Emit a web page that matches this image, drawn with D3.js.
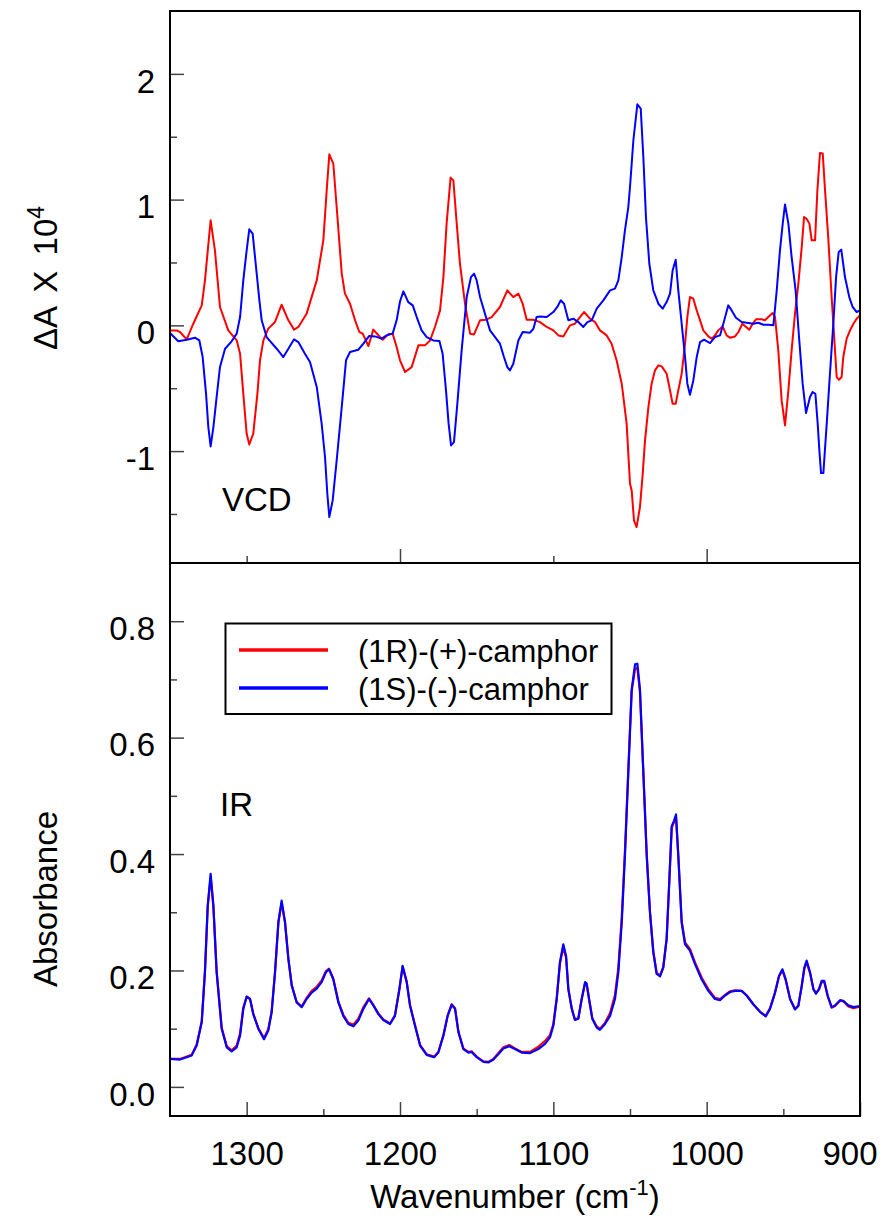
<!DOCTYPE html>
<html><head><meta charset="utf-8">
<script src="https://cdn.jsdelivr.net/npm/d3@7"></script>
<style>
body{margin:0;background:#fff;}
svg{display:block;font-family:"Liberation Sans",Arial,sans-serif;}
</style></head>
<body><svg id="chart" width="884" height="1222"></svg>
<script>
// ---- Data (wavenumber cm-1, value) ----
const vcdR = [[1350,-0.04],[1345.7,-0.04],[1343.5,-0.053],[1339.1,-0.111],[1334.8,0.013],[1329.3,0.159],[1327.2,0.358],[1323.5,0.835],[1320.7,0.597],[1317.4,0.146],[1312.0,-0.04],[1306.5,-0.119],[1304.3,-0.225],[1302.2,-0.543],[1300.0,-0.862],[1298.3,-0.947],[1295.7,-0.862],[1293.0,-0.543],[1291.3,-0.278],[1289.1,-0.119],[1285.9,-0.026],[1281.5,0.027],[1277.2,0.164],[1272.8,0.04],[1269.1,-0.034],[1266.3,-0.013],[1260.9,0.093],[1254.3,0.358],[1250.0,0.676],[1247.8,1.074],[1246.1,1.36],[1243.5,1.286],[1241.3,0.941],[1238.0,0.411],[1235.9,0.252],[1232.6,0.172],[1229.3,0.04],[1226.5,-0.053],[1224.3,-0.066],[1220.6,-0.164],[1217.4,-0.034],[1214.1,-0.079],[1211.3,-0.114],[1207.6,-0.071],[1204.8,-0.066],[1202.2,-0.172],[1200.0,-0.278],[1196.7,-0.371],[1192.4,-0.332],[1188.0,-0.159],[1183.7,-0.159],[1180.4,-0.12],[1177.2,-0.013],[1173.9,0.119],[1171.7,0.384],[1169.6,0.809],[1167.0,1.175],[1165.2,1.153],[1163.0,0.809],[1160.9,0.49],[1157.6,0.172],[1154.3,-0.066],[1151.7,-0.072],[1147.8,0.04],[1143.9,0.045],[1140.2,0.066],[1134.8,0.146],[1130.0,0.278],[1126.1,0.225],[1122.8,0.252],[1120.0,0.172],[1117.4,0.045],[1113.0,0.045],[1108.7,0.026],[1104.3,-0.013],[1100.0,-0.04],[1096.7,-0.08],[1093.5,-0.088],[1089.1,0.0],[1085.9,0.013],[1082.6,0.066],[1080.0,0.106],[1076.1,0.053],[1072.8,0.026],[1069.6,-0.04],[1065.2,-0.08],[1062.0,-0.146],[1058.7,-0.279],[1055.4,-0.464],[1052.2,-0.782],[1050.0,-1.26],[1048.9,-1.313],[1047.4,-1.552],[1045.7,-1.605],[1043.5,-1.445],[1041.7,-1.18],[1040.2,-0.915],[1038.0,-0.65],[1035.9,-0.464],[1033.7,-0.358],[1031.5,-0.318],[1029.3,-0.326],[1026.1,-0.385],[1023.9,-0.517],[1022.2,-0.623],[1020.2,-0.623],[1018.5,-0.517],[1016.3,-0.385],[1014.1,-0.146],[1012.6,0.066],[1010.9,0.225],[1008.7,0.212],[1006.5,0.119],[1004.3,0.04],[1002.2,-0.04],[998.9,-0.088],[996.7,-0.106],[994.6,-0.08],[992.4,-0.04],[989.6,-0.008],[987.0,-0.08],[984.8,-0.098],[981.5,-0.088],[979.3,-0.053],[976.7,0.013],[974.3,-0.013],[972.2,-0.035],[970.0,0.013],[967.8,0.048],[964.1,0.048],[962.0,0.04],[959.8,0.066],[957.0,0.098],[955.4,0.066],[953.3,-0.199],[951.1,-0.597],[948.9,-0.796],[946.7,-0.517],[944.6,-0.199],[942.4,0.093],[940.2,0.331],[938.0,0.623],[936.5,0.862],[934.8,0.848],[933.0,0.809],[931.5,0.676],[929.3,0.676],[927.8,1.074],[926.1,1.371],[924.3,1.366],[922.8,1.074],[920.6,0.676],[918.5,0.225],[916.3,-0.199],[915.2,-0.411],[913.7,-0.433],[912.0,-0.411],[910.9,-0.252],[908.7,-0.106],[906.5,-0.04],[904.3,0.013],[902.2,0.053],[900.0,0.079]];

const vcdS = [[1350,-0.061],[1344.6,-0.127],[1339.1,-0.114],[1333.7,-0.098],[1330.9,-0.119],[1328.7,-0.252],[1326.5,-0.543],[1325.0,-0.809],[1323.5,-0.963],[1321.7,-0.809],[1319.6,-0.57],[1317.4,-0.331],[1314.1,-0.186],[1309.8,-0.127],[1306.5,-0.066],[1304.3,0.066],[1302.2,0.358],[1300.0,0.597],[1298.3,0.764],[1296.1,0.729],[1293.9,0.464],[1291.7,0.199],[1290.2,0.04],[1287.0,-0.093],[1280.4,-0.186],[1276.1,-0.252],[1272.8,-0.186],[1269.1,-0.111],[1266.3,-0.133],[1262.0,-0.225],[1258.7,-0.292],[1254.3,-0.49],[1251.1,-0.782],[1248.9,-1.047],[1247.4,-1.339],[1246.1,-1.525],[1243.9,-1.392],[1241.3,-1.074],[1238.0,-0.65],[1235.2,-0.278],[1232.6,-0.212],[1227.2,-0.194],[1223.9,-0.146],[1220.2,-0.085],[1216.3,-0.088],[1212.0,-0.106],[1208.7,-0.08],[1204.8,-0.066],[1202.2,0.04],[1200.0,0.19],[1197.8,0.27],[1194.6,0.185],[1191.7,0.159],[1189.1,0.066],[1185.9,-0.04],[1182.6,-0.093],[1178.3,-0.12],[1174.3,-0.125],[1172.2,-0.226],[1170.0,-0.517],[1168.3,-0.782],[1166.7,-0.955],[1164.8,-0.928],[1162.6,-0.623],[1159.8,-0.199],[1156.5,0.225],[1153.7,0.384],[1151.7,0.411],[1150.0,0.358],[1147.8,0.225],[1144.6,0.093],[1141.3,-0.04],[1138.0,-0.093],[1134.8,-0.146],[1132.2,-0.252],[1130.0,-0.332],[1128.3,-0.358],[1126.1,-0.305],[1122.8,-0.12],[1120.0,-0.053],[1115.2,-0.058],[1113.0,-0.027],[1110.9,0.066],[1108.7,0.071],[1104.3,0.066],[1100.0,0.106],[1097.4,0.146],[1095.2,0.199],[1093.0,0.172],[1090.2,0.04],[1087.0,0.053],[1083.7,0.026],[1080.4,-0.013],[1077.8,0.026],[1075.0,0.04],[1071.7,0.133],[1067.4,0.199],[1063.0,0.278],[1059.8,0.292],[1057.6,0.358],[1055.4,0.543],[1053.3,0.756],[1051.1,0.941],[1050.0,1.1],[1047.8,1.472],[1045.2,1.758],[1043.0,1.724],[1041.3,1.339],[1039.6,0.862],[1037.4,0.49],[1034.8,0.278],[1031.5,0.172],[1028.7,0.133],[1026.1,0.185],[1023.9,0.252],[1022.2,0.437],[1020.2,0.522],[1018.5,0.278],[1016.3,0.013],[1014.1,-0.252],[1012.6,-0.464],[1010.9,-0.552],[1008.7,-0.438],[1006.5,-0.252],[1004.3,-0.133],[1001.7,-0.114],[997.8,-0.141],[994.6,-0.093],[991.3,-0.08],[988.5,0.04],[985.9,0.159],[983.7,0.119],[980.9,0.061],[977.2,0.026],[973.9,0.021],[969.6,0.013],[966.3,0.021],[963.0,0.005],[959.8,0.005],[956.5,0.0],[954.3,0.278],[952.2,0.597],[950.4,0.809],[948.9,0.962],[946.7,0.809],[944.6,0.544],[942.0,0.278],[939.6,-0.119],[937.4,-0.464],[935.2,-0.698],[932.6,-0.57],[930.9,-0.53],[929.1,-0.544],[927.6,-0.782],[926.5,-0.995],[925.4,-1.175],[923.9,-1.175],[921.7,-0.782],[919.6,-0.385],[917.4,0.013],[915.6,0.384],[913.9,0.583],[912.2,0.602],[909.8,0.384],[907.0,0.225],[904.8,0.146],[902.2,0.106],[900.0,0.119]];

const irS = [[1350,0.048],[1343.5,0.047],[1339.1,0.051],[1335.9,0.054],[1332.6,0.071],[1329.3,0.111],[1327.2,0.197],[1325.4,0.311],[1323.5,0.366],[1321.7,0.311],[1319.6,0.197],[1316.3,0.1],[1313.0,0.068],[1309.8,0.061],[1306.5,0.068],[1304.3,0.088],[1302.2,0.134],[1300.0,0.155],[1297.8,0.151],[1295.7,0.125],[1292.4,0.1],[1288.7,0.082],[1285.9,0.097],[1283.7,0.128],[1281.5,0.197],[1279.3,0.283],[1277.2,0.32],[1275.0,0.283],[1272.8,0.22],[1270.6,0.174],[1267.4,0.145],[1264.1,0.137],[1260.9,0.151],[1257.6,0.162],[1254.3,0.169],[1251.1,0.18],[1248.3,0.197],[1246.3,0.202],[1243.5,0.185],[1240.2,0.145],[1237.0,0.122],[1233.7,0.108],[1230.4,0.104],[1227.2,0.114],[1223.9,0.134],[1220.2,0.151],[1217.4,0.14],[1214.1,0.125],[1210.9,0.115],[1206.5,0.108],[1203.3,0.122],[1200.4,0.168],[1198.3,0.208],[1195.6,0.18],[1193.5,0.14],[1190.2,0.105],[1186.9,0.071],[1182.6,0.055],[1177.8,0.051],[1175.0,0.059],[1171.7,0.088],[1168.9,0.122],[1166.3,0.141],[1164.1,0.134],[1161.9,0.094],[1158.7,0.065],[1155.4,0.059],[1153.3,0.06],[1150.0,0.051],[1145.6,0.043],[1142.4,0.042],[1139.1,0.047],[1135.9,0.056],[1132.6,0.066],[1128.7,0.07],[1125.0,0.065],[1120.7,0.059],[1115.2,0.058],[1109.8,0.065],[1105.4,0.074],[1102.2,0.085],[1100.0,0.105],[1097.8,0.151],[1095.7,0.214],[1093.5,0.245],[1091.7,0.225],[1090.2,0.168],[1088.0,0.134],[1085.9,0.115],[1083.7,0.117],[1081.5,0.151],[1079.3,0.18],[1078.3,0.178],[1076.7,0.151],[1074.6,0.117],[1071.7,0.102],[1069.6,0.098],[1066.3,0.108],[1063.0,0.122],[1059.8,0.151],[1057.6,0.197],[1055.4,0.282],[1053.3,0.397],[1051.1,0.54],[1048.9,0.683],[1046.7,0.726],[1045.2,0.727],[1043.5,0.683],[1041.3,0.54],[1039.1,0.397],[1037.0,0.3],[1034.8,0.231],[1032.6,0.194],[1030.4,0.19],[1028.3,0.205],[1026.1,0.254],[1024.6,0.34],[1022.8,0.448],[1021.3,0.457],[1020.0,0.468],[1018.5,0.397],[1016.3,0.282],[1014.1,0.245],[1010.9,0.234],[1007.6,0.211],[1003.3,0.185],[998.9,0.165],[994.6,0.151],[991.3,0.149],[988.0,0.157],[984.8,0.163],[981.5,0.165],[977.2,0.165],[973.9,0.157],[969.6,0.142],[965.2,0.129],[961.5,0.121],[958.7,0.134],[955.4,0.162],[952.8,0.191],[950.6,0.202],[948.5,0.185],[945.6,0.151],[942.4,0.133],[940.2,0.139],[938.0,0.174],[936.3,0.205],[934.8,0.217],[932.6,0.197],[930.4,0.168],[928.7,0.16],[926.7,0.168],[925.0,0.182],[923.3,0.182],[921.1,0.157],[918.5,0.137],[916.3,0.14],[913.0,0.149],[910.9,0.148],[907.6,0.14],[904.3,0.137],[900.0,0.139]];

const irR = [[1350,0.048],[1343.5,0.048],[1339.1,0.052],[1335.9,0.055],[1332.6,0.073],[1329.3,0.113],[1327.2,0.2],[1325.4,0.31],[1323.5,0.36],[1321.7,0.31],[1319.6,0.2],[1316.3,0.102],[1313.0,0.07],[1309.8,0.063],[1306.5,0.071],[1304.3,0.092],[1302.2,0.136],[1300.0,0.155],[1297.8,0.151],[1295.7,0.126],[1292.4,0.101],[1288.7,0.084],[1285.9,0.099],[1283.7,0.13],[1281.5,0.198],[1279.3,0.283],[1277.2,0.316],[1275.0,0.283],[1272.8,0.22],[1270.6,0.175],[1267.4,0.146],[1264.1,0.138],[1260.9,0.153],[1257.6,0.165],[1254.3,0.172],[1251.1,0.183],[1248.3,0.199],[1246.3,0.203],[1243.5,0.186],[1240.2,0.147],[1237.0,0.124],[1233.7,0.11],[1230.4,0.107],[1227.2,0.117],[1223.9,0.137],[1220.2,0.152],[1217.4,0.141],[1214.1,0.126],[1210.9,0.116],[1206.5,0.109],[1203.3,0.123],[1200.4,0.168],[1198.3,0.206],[1195.6,0.18],[1193.5,0.141],[1190.2,0.106],[1186.9,0.072],[1182.6,0.056],[1177.8,0.052],[1175.0,0.06],[1171.7,0.089],[1168.9,0.123],[1166.3,0.142],[1164.1,0.135],[1161.9,0.095],[1158.7,0.066],[1155.4,0.06],[1153.3,0.061],[1150.0,0.052],[1145.6,0.044],[1142.4,0.043],[1139.1,0.048],[1135.9,0.058],[1132.6,0.068],[1128.7,0.072],[1125.0,0.066],[1120.7,0.06],[1115.2,0.06],[1109.8,0.069],[1105.4,0.079],[1102.2,0.089],[1100.0,0.108],[1097.8,0.152],[1095.7,0.212],[1093.5,0.24],[1091.7,0.222],[1090.2,0.168],[1088.0,0.135],[1085.9,0.116],[1083.7,0.118],[1081.5,0.151],[1079.3,0.178],[1078.3,0.176],[1076.7,0.151],[1074.6,0.118],[1071.7,0.104],[1069.6,0.1],[1066.3,0.11],[1063.0,0.127],[1059.8,0.158],[1057.6,0.205],[1055.4,0.29],[1053.3,0.405],[1051.1,0.545],[1048.9,0.68],[1046.7,0.718],[1045.2,0.72],[1043.5,0.678],[1041.3,0.54],[1039.1,0.4],[1037.0,0.302],[1034.8,0.233],[1032.6,0.196],[1030.4,0.192],[1028.3,0.206],[1026.1,0.255],[1024.6,0.34],[1022.8,0.445],[1021.3,0.455],[1020.0,0.463],[1018.5,0.397],[1016.3,0.285],[1014.1,0.248],[1010.9,0.237],[1007.6,0.214],[1003.3,0.188],[998.9,0.168],[994.6,0.153],[991.3,0.151],[988.0,0.158],[984.8,0.164],[981.5,0.166],[977.2,0.165],[973.9,0.157],[969.6,0.142],[965.2,0.129],[961.5,0.122],[958.7,0.135],[955.4,0.162],[952.8,0.19],[950.6,0.2],[948.5,0.184],[945.6,0.151],[942.4,0.134],[940.2,0.14],[938.0,0.173],[936.3,0.203],[934.8,0.214],[932.6,0.196],[930.4,0.168],[928.7,0.161],[926.7,0.168],[925.0,0.18],[923.3,0.18],[921.1,0.156],[918.5,0.136],[916.3,0.139],[913.0,0.148],[910.9,0.147],[907.6,0.138],[904.3,0.135],[900.0,0.138]];

const xMajorTicks = [1300, 1200, 1100, 1000, 900];
const xMinorTicks = [1250, 1150, 1050, 950];
const xTopMajor = [1200, 1000];
const xTopMinor = [1300, 1100];
const vcdMajorTicks = [2, 1, 0, -1];
const vcdMinorTicks = [1.5, 0.5, -0.5, -1.5];
const irMajorTicks = [0.0, 0.2, 0.4, 0.6, 0.8];
const irMinorTicks = [0.1, 0.3, 0.5, 0.7];
const seriesNames = ["(1R)-(+)-camphor", "(1S)-(-)-camphor"];
const seriesColors = ["#ff0000", "#0000ff"];

// ---- Layout ----
const L = 170, R = 860, T = 11, MID = 563, B = 1116;
const FS = 33;
const svg = d3.select("#chart");

const x = d3.scaleLinear().domain([1350, 900]).range([L, R]);
const yTop = d3.scaleLinear().domain([-1.89, 2.5]).range([MID, T]);
const yBot = d3.scaleLinear().domain([-0.05, 0.9]).range([B, MID]);

svg.append("clipPath").attr("id","ct").append("rect")
  .attr("x",L).attr("y",T).attr("width",R-L).attr("height",MID-T);
svg.append("clipPath").attr("id","cb").append("rect")
  .attr("x",L).attr("y",MID).attr("width",R-L).attr("height",B-MID);

const hyphenInt = d => String(Math.round(d));
const oneDec = d => d.toFixed(1);

function styleAxis(g){
  g.select(".domain").remove();
  g.selectAll(".tick line").attr("stroke","#444").attr("stroke-width",1.5);
  g.selectAll("text").attr("font-size",FS).attr("fill","#000")
   .attr("font-family","'Liberation Sans', Arial, sans-serif");
}

// y axes (top)
svg.append("g").attr("transform",`translate(${L},0)`)
  .call(d3.axisLeft(yTop).tickValues(vcdMajorTicks).tickSize(-14).tickPadding(15).tickFormat(hyphenInt))
  .call(styleAxis).call(g=>g.selectAll("text").attr("dy","0.55em"));
svg.append("g").attr("transform",`translate(${L},0)`)
  .call(d3.axisLeft(yTop).tickValues(vcdMinorTicks).tickSize(-7).tickFormat(""))
  .call(styleAxis);
// x ticks on top panel bottom edge
svg.append("g").attr("transform",`translate(0,${MID})`)
  .call(d3.axisBottom(x).tickValues(xTopMajor).tickSize(-14).tickFormat(""))
  .call(styleAxis);
svg.append("g").attr("transform",`translate(0,${MID})`)
  .call(d3.axisBottom(x).tickValues(xTopMinor).tickSize(-7).tickFormat(""))
  .call(styleAxis);

// y axes (bottom)
svg.append("g").attr("transform",`translate(${L},0)`)
  .call(d3.axisLeft(yBot).tickValues(irMajorTicks).tickSize(-14).tickPadding(15).tickFormat(oneDec))
  .call(styleAxis).call(g=>g.selectAll("text").attr("dy","0.55em"));
svg.append("g").attr("transform",`translate(${L},0)`)
  .call(d3.axisLeft(yBot).tickValues(irMinorTicks).tickSize(-7).tickFormat(""))
  .call(styleAxis);
// x axis bottom
const xAx = svg.append("g").attr("transform",`translate(0,${B})`)
  .call(d3.axisBottom(x).tickValues(xMajorTicks).tickSize(-14).tickPadding(26).tickFormat(hyphenInt))
  .call(styleAxis);
xAx.selectAll(".tick text").filter(d=>d===900).attr("text-anchor","end").attr("x",17);
svg.append("g").attr("transform",`translate(0,${B})`)
  .call(d3.axisBottom(x).tickValues(xMinorTicks).tickSize(-7).tickFormat(""))
  .call(styleAxis);

// curves
const lineTop = d3.line().x(d=>x(d[0])).y(d=>yTop(d[1]));
const lineBot = d3.line().x(d=>x(d[0])).y(d=>yBot(d[1]));
const gTop = svg.append("g").attr("clip-path","url(#ct)");
gTop.append("path").datum(vcdR).attr("d",lineTop).attr("fill","none").attr("stroke",seriesColors[0]).attr("stroke-width",2).attr("stroke-linejoin","round");
gTop.append("path").datum(vcdS).attr("d",lineTop).attr("fill","none").attr("stroke",seriesColors[1]).attr("stroke-width",2).attr("stroke-linejoin","round");
const gBot = svg.append("g").attr("clip-path","url(#cb)");
gBot.append("path").datum(irR).attr("d",lineBot).attr("fill","none").attr("stroke",seriesColors[0]).attr("stroke-width",2.2).attr("stroke-linejoin","round");
gBot.append("path").datum(irS).attr("d",lineBot).attr("fill","none").attr("stroke",seriesColors[1]).attr("stroke-width",2.2).attr("stroke-linejoin","round");

// frames
svg.append("rect").attr("x",L).attr("y",T).attr("width",R-L).attr("height",MID-T)
  .attr("fill","none").attr("stroke","#000").attr("stroke-width",2);
svg.append("rect").attr("x",L).attr("y",MID).attr("width",R-L).attr("height",B-MID)
  .attr("fill","none").attr("stroke","#000").attr("stroke-width",2);

// panel labels
svg.append("text").attr("x",222).attr("y",511).attr("font-size",FS).text("VCD");
svg.append("text").attr("x",220).attr("y",816).attr("font-size",FS).text("IR");

// legend
const lg = svg.append("g");
lg.append("rect").attr("x",225.5).attr("y",623.5).attr("width",386).attr("height",90.5)
  .attr("fill","#fff").attr("stroke","#000").attr("stroke-width",2);
seriesNames.forEach((n,i)=>{
  const yy = [650, 688][i];
  lg.append("line").attr("x1",239).attr("x2",328).attr("y1",yy).attr("y2",yy)
    .attr("stroke",seriesColors[i]).attr("stroke-width",3.5);
  lg.append("text").attr("x",358).attr("y",yy+12).attr("font-size",31).text(n);
});

// axis titles
const t1 = svg.append("text").attr("transform","translate(57,278) rotate(-90)")
  .attr("text-anchor","middle").attr("font-size",FS).attr("word-spacing",6);
t1.append("tspan").text("\u0394A X 10");
t1.append("tspan").attr("font-size",23).attr("dy",-13).text("4");
svg.append("text").attr("transform","translate(57,899) rotate(-90)")
  .attr("text-anchor","middle").attr("font-size",FS).text("Absorbance");
const t3 = svg.append("text").attr("x",515).attr("y",1208).attr("text-anchor","middle").attr("font-size",FS);
t3.append("tspan").text("Wavenumber (cm");
t3.append("tspan").attr("font-size",22).attr("dy",-13).text("-1");
t3.append("tspan").attr("dy",13).text(")");
</script></body></html>
